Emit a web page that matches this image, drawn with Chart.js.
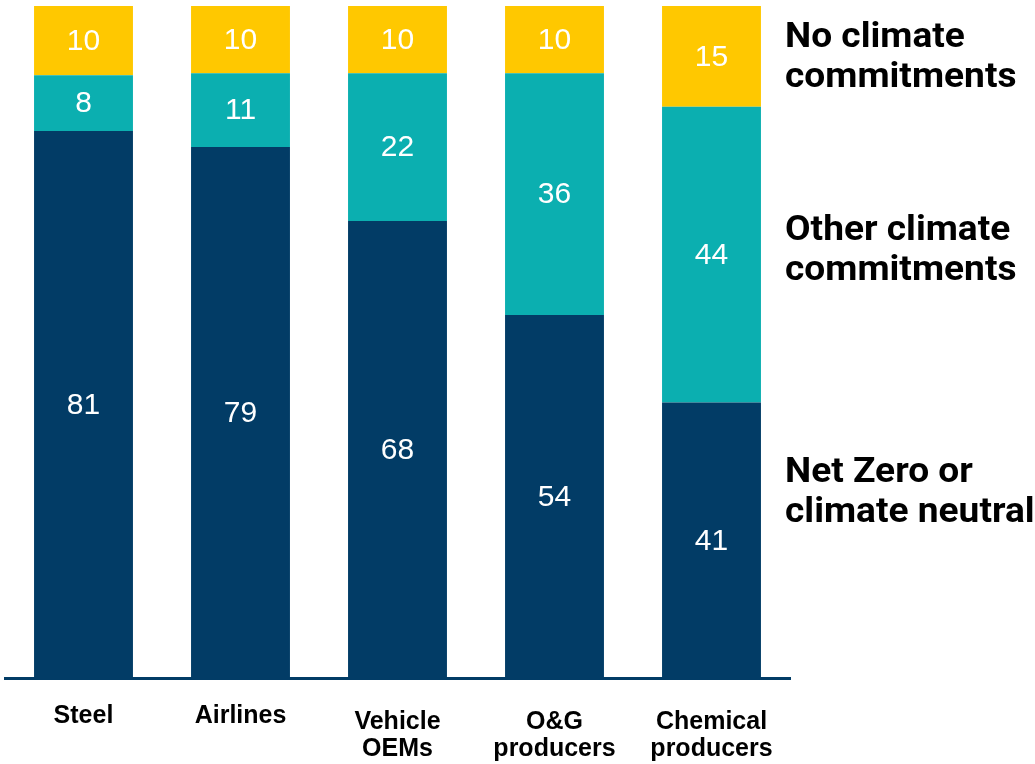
<!DOCTYPE html>
<html>
<head>
<meta charset="utf-8">
<script src="https://cdn.jsdelivr.net/npm/chart.js@4/dist/chart.umd.min.js"></script>
<style>
    html, body { margin: 0; padding: 0; background: #ffffff; }
    #wrap { width: 1035px; height: 764px; }
</style>
</head>
<body>
<div id="wrap"><canvas id="chart" width="1035" height="764"></canvas></div>
<script>
// Dados do gráfico
const categories = [
    ['Steel'],
    ['Airlines'],
    ['Vehicle', 'OEMs'],
    ['O&G', 'producers'],
    ['Chemical', 'producers']
];
const netZero = [81.4, 79, 68, 54, 41];
const otherCommitments = [8.3, 11, 22, 36, 44];
const noCommitments = [10.3, 10, 10, 10, 15];

const seriesNames = ['Net Zero or climate neutral', 'Other climate commitments', 'No climate commitments'];
const colors = ['#023c66', '#0bafb0', '#ffc800'];

// Legenda à direita (linhas por série, de cima para baixo)
const sideLegend = [
    { lines: ['No climate', 'commitments'], baseline: 41 },
    { lines: ['Other climate', 'commitments'], baseline: 234 },
    { lines: ['Net Zero or', 'climate neutral'], baseline: 476 }
];

// Rótulos dentro das barras
const barLabels = {
    id: 'barLabels',
    afterDatasetsDraw(chart) {
        const ctx = chart.ctx;
        ctx.save();
        ctx.fillStyle = '#ffffff';
        ctx.font = '30px "Liberation Sans", Arial, sans-serif';
        ctx.textAlign = 'center';
        ctx.textBaseline = 'middle';
        chart.data.datasets.forEach((ds, i) => {
            chart.getDatasetMeta(i).data.forEach((bar, j) => {
                const y = (bar.y + bar.base) / 2;
                ctx.fillText(Math.round(ds.data[j]), bar.x, y + 1);
            });
        });
        ctx.restore();
    }
};

// Rótulos das categorias (eixo x)
const categoryLabels = {
    id: 'categoryLabels',
    afterDraw(chart) {
        const ctx = chart.ctx;
        const xScale = chart.scales.x;
        const axisY = chart.chartArea.bottom;
        ctx.save();
        ctx.fillStyle = '#000000';
        ctx.font = 'bold 25px "Liberation Sans", Arial, sans-serif';
        ctx.textAlign = 'center';
        ctx.textBaseline = 'alphabetic';
        categories.forEach((lines, i) => {
            const x = xScale.getPixelForTick(i);
            const first = lines.length > 1 ? 51 : 45;
            lines.forEach((line, k) => {
                ctx.fillText(line, x, axisY + first + k * 27);
            });
        });
        ctx.restore();
    }
};

// Texto da legenda lateral
const legendText = {
    id: 'legendText',
    afterDraw(chart) {
        const ctx = chart.ctx;
        const area = chart.chartArea;
        ctx.save();
        ctx.fillStyle = '#000000';
        ctx.font = 'bold 35px Roboto, sans-serif';
        ctx.textAlign = 'left';
        ctx.textBaseline = 'alphabetic';
        const left = area.right - 5;
        ctx.translate(left, 0);
        ctx.scale(1.06, 1);
        sideLegend.forEach(item => {
            item.lines.forEach((line, k) => {
                ctx.fillText(line, 0, area.top + item.baseline + k * 40);
            });
        });
        ctx.restore();
    }
};

new Chart(document.getElementById('chart'), {
    type: 'bar',
    data: {
        labels: categories,
        datasets: [
            { label: seriesNames[0], data: netZero, backgroundColor: colors[0] },
            { label: seriesNames[1], data: otherCommitments, backgroundColor: colors[1] },
            { label: seriesNames[2], data: noCommitments, backgroundColor: colors[2] }
        ]
    },
    options: {
        responsive: false,
        animation: false,
        layout: { padding: { left: 5, right: 245, top: 6, bottom: 86 } },
        datasets: {
            bar: { categoryPercentage: 1, barPercentage: 0.63, borderWidth: 0 }
        },
        scales: {
            x: {
                stacked: true,
                grid: { display: false, drawTicks: false },
                border: { display: true, color: '#023c66', width: 3 },
                ticks: { display: false }
            },
            y: {
                stacked: true,
                display: false,
                min: 0,
                max: 100
            }
        },
        plugins: {
            legend: { display: false },
            tooltip: { enabled: false }
        }
    },
    plugins: [barLabels, categoryLabels, legendText]
});
</script>
</body>
</html>
